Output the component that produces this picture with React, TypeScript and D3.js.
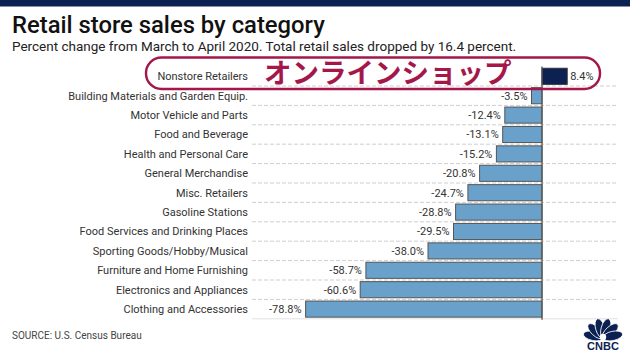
import React from "react";
import * as d3 from "d3";

const categories = [
  "Nonstore Retailers",
  "Building Materials and Garden Equip.",
  "Motor Vehicle and Parts",
  "Food and Beverage",
  "Health and Personal Care",
  "General Merchandise",
  "Misc. Retailers",
  "Gasoline Stations",
  "Food Services and Drinking Places",
  "Sporting Goods/Hobby/Musical",
  "Furniture and Home Furnishing",
  "Electronics and Appliances",
  "Clothing and Accessories",
];
const values = [8.4, -3.5, -12.4, -13.1, -15.2, -20.8, -24.7, -28.8, -29.5, -38.0, -58.7, -60.6, -78.8];
const highlight = ["Nonstore Retailers"];

const W = 630;
const H = 354;
const NAVY = "#0c2152";
const CRIMSON = "#a5174b";
const BLUE = "#6aa1cb";
const FONT = "Roboto, 'Liberation Sans', sans-serif";

export default function App() {
  const x = d3.scaleLinear().domain([-80, 10]).range([302, 572]);
  const y = d3.scaleBand<string>().domain(categories).range([66.6, 318.8]).paddingInner(0.17).paddingOuter(0.085);
  const step = y.step();
  const y0 = 66.6;
  const gridYs = d3.range(1, categories.length).map((i) => y0 + i * step);

  return (
    <svg width={W} height={H} style={{ position: "absolute", left: 0, top: 0, background: "#fff" }} fontFamily={FONT}>
      <rect x={0} y={0} width={W} height={354} fill="#fff" />
      <rect x={0} y={0} width={W} height={6.5} fill={NAVY} />
      <text x={12} y={33} fontSize={23.8} fill="#111" fontWeight={500}>Retail store sales by category</text>
      <text x={12} y={51} fontSize={13.5} fill="#222">Percent change from March to April 2020. Total retail sales dropped by 16.4 percent.</text>

      {gridYs.map((gy, i) => (
        <line key={i} x1={252} x2={618} y1={gy} y2={gy} stroke="#cfcfcf" strokeWidth={1} strokeDasharray="4,2" />
      ))}
      <line x1={252} x2={618} y1={y0 + categories.length * step} y2={y0 + categories.length * step} stroke="#e2e2e2" strokeWidth={1} />

      {categories.map((c, i) => {
        const v = values[i];
        const yy = y(c)!;
        const bh = y.bandwidth();
        const x0 = x(Math.min(0, v));
        const x1 = x(Math.max(0, v));
        const isHi = highlight.includes(c);
        const cy = yy + bh / 2;
        return (
          <g key={c}>
            <rect x={x0} y={yy} width={x1 - x0} height={bh} fill={isHi ? NAVY : BLUE} stroke={isHi ? "#333" : "#555"} strokeWidth={1} />
            <text x={248} y={cy} dy="0.35em" textAnchor="end" fontSize={11} fill="#333">{c}</text>
            <text
              x={v < 0 ? x(v) - 4 : x(v) + 3}
              y={cy}
              dy="0.35em"
              textAnchor={v < 0 ? "end" : "start"}
              fontSize={11}
              fill="#333"
            >
              {v.toFixed(1) + "%"}
            </text>
          </g>
        );
      })}

      <line x1={x(0)} x2={x(0)} y1={y0} y2={y0 + categories.length * step + 1} stroke="#555" strokeWidth={1.3} />

      <rect x={146} y={57.5} width={454} height={31.5} rx={15.5} ry={15.5} fill="none" stroke={CRIMSON} strokeWidth={2.4} />
      <text x={264} y={83} fontSize={27.5} fontWeight={700} fill={CRIMSON} fontFamily="'Noto Sans CJK JP', sans-serif">オンラインショップ</text>

      <text x={12} y={339} fontSize={10} fill="#444">SOURCE: U.S. Census Bureau</text>

      <g transform="translate(603,338)" fill={NAVY}>
        {[-78, -47, -16, 16, 47, 78].map((a, i) => (
          <ellipse key={i} cx={0} cy={-10} rx={4.6} ry={10} transform={`rotate(${a})`} stroke="#fff" strokeWidth={0.8} />
        ))}
        <circle cx={0} cy={-1} r={3.2} fill="#fff" />
        <text x={0} y={12} textAnchor="middle" fontSize={11} fontWeight={900} fontFamily="'Liberation Sans', Arial, sans-serif" fill={NAVY}>CNBC</text>
      </g>
    </svg>
  );
}
